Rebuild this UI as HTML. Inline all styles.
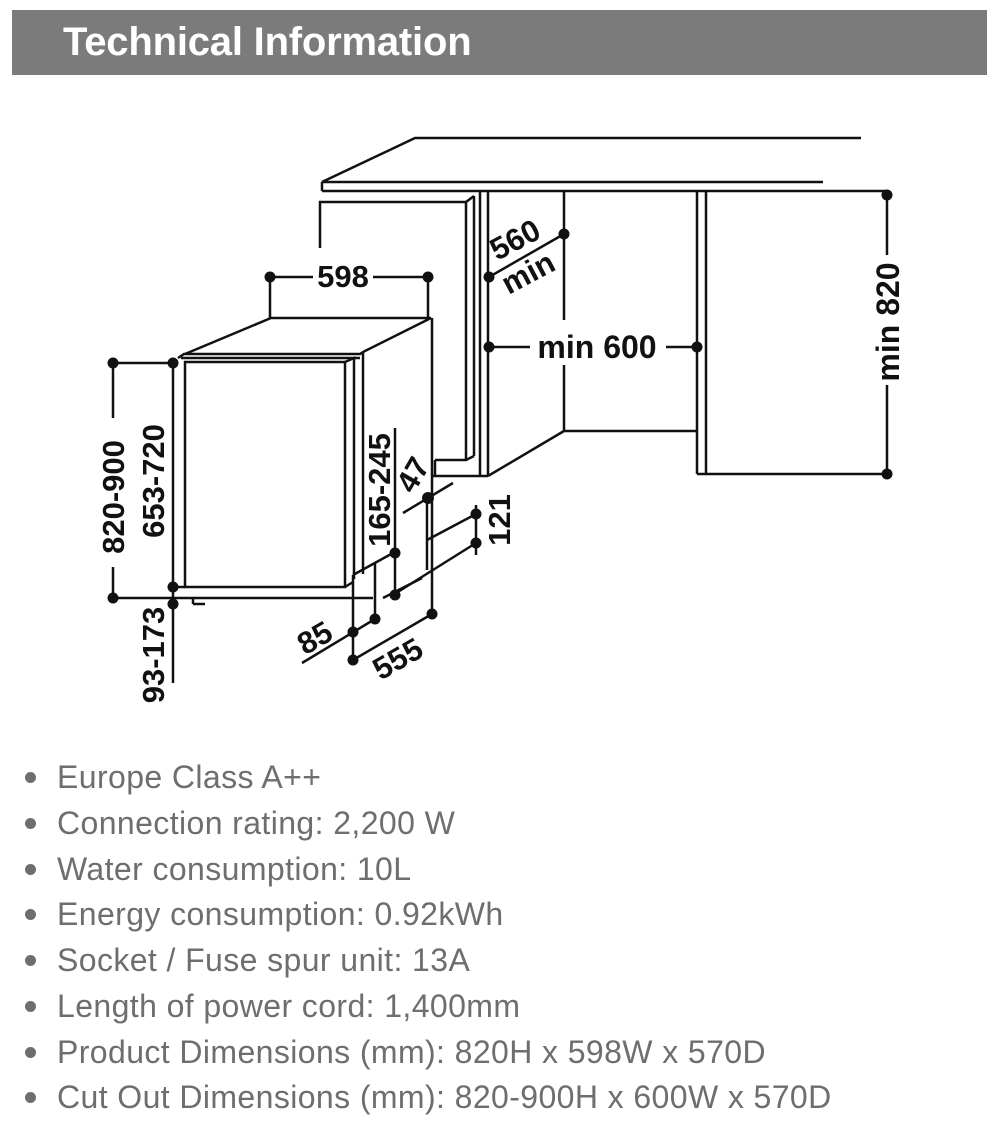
<!DOCTYPE html>
<html><head><meta charset="utf-8"><style>
html,body{margin:0;padding:0;background:#fff;width:1000px;height:1140px;overflow:hidden}
.hdr{position:absolute;left:12px;top:10px;width:975px;height:65px;background:#7b7b7b}
.hdr span{position:absolute;left:51px;top:10px;color:#fff;font:bold 40px "Liberation Sans",sans-serif;letter-spacing:-0.2px}
svg{position:absolute;left:0;top:0}
.li{position:absolute;left:57px;font:32px "Liberation Sans",sans-serif;color:#6e6e6e;white-space:nowrap;letter-spacing:0.4px}
.dot{position:absolute;left:25px;width:11px;height:11px;border-radius:50%;background:#6e6e6e}
</style></head><body>
<div class="hdr"><span>Technical Information</span></div>
<svg width="1000" height="740" viewBox="0 0 1000 740" xmlns="http://www.w3.org/2000/svg">
<g fill="none" stroke="#111" stroke-width="2.5" stroke-linejoin="miter">
<polyline points="861,138 415,138 322,182 823,182"/>
<line x1="322" y1="182" x2="322" y2="191"/>
<line x1="322" y1="191" x2="887" y2="191"/>
<polyline points="320,248 320,202 466,202 474,196"/>
<line x1="466" y1="202" x2="466" y2="460"/>
<line x1="474" y1="196" x2="474" y2="456"/>
<polyline points="435,460 466,460 474,456"/>
<line x1="435" y1="460" x2="435" y2="476"/>
<line x1="480" y1="191" x2="480" y2="476"/>
<line x1="488" y1="191" x2="488" y2="476"/>
<line x1="433" y1="476" x2="488" y2="476"/>
<line x1="488" y1="476" x2="564" y2="431"/>
<line x1="564" y1="191" x2="564" y2="320"/>
<line x1="564" y1="365" x2="564" y2="431"/>
<line x1="564" y1="431" x2="697" y2="431"/>
<line x1="697" y1="191" x2="697" y2="474"/>
<line x1="706" y1="191" x2="706" y2="474"/>
<line x1="697" y1="474" x2="887" y2="474"/>
<line x1="887" y1="195" x2="887" y2="255"/>
<line x1="887" y1="385" x2="887" y2="474"/>
<line x1="489" y1="347" x2="530" y2="347"/>
<line x1="666" y1="347" x2="697" y2="347"/>
<line x1="489" y1="277" x2="564" y2="234"/>
<line x1="270" y1="277" x2="313" y2="277"/>
<line x1="373" y1="277" x2="428" y2="277"/>
<line x1="270" y1="277" x2="270" y2="318"/>
<line x1="428" y1="277" x2="428" y2="318"/>
<polyline points="185,354 271,318 431,318 363,352"/>
<polyline points="178,358 184,354 360,354 363,352"/>
<line x1="181" y1="358" x2="360" y2="358"/>
<line x1="432" y1="318" x2="432" y2="614"/>
<rect x="185" y="362" width="160" height="225"/>
<line x1="173" y1="363" x2="173" y2="598"/>
<polyline points="345,362 354,358 354,579"/>
<line x1="363" y1="352" x2="363" y2="574"/>
<line x1="345" y1="587" x2="353" y2="582"/>
<polyline points="353,575 393,553"/>
<line x1="353" y1="575" x2="353" y2="660"/>
<line x1="375" y1="563" x2="375" y2="619"/>
<line x1="173" y1="598" x2="373" y2="598"/>
<line x1="173" y1="587" x2="185" y2="587"/>
<line x1="193" y1="598" x2="193" y2="604"/>
<line x1="193" y1="604" x2="205" y2="604"/>
<line x1="113" y1="363" x2="173" y2="363"/>
<line x1="113" y1="598" x2="173" y2="598"/>
<line x1="113" y1="363" x2="113" y2="418"/>
<line x1="113" y1="567" x2="113" y2="598"/>
<line x1="173" y1="603" x2="173" y2="683"/>
<line x1="395" y1="428" x2="395" y2="595"/>
<line x1="403" y1="513" x2="453" y2="483"/>
<line x1="427" y1="498" x2="427" y2="570"/>
<line x1="427" y1="540" x2="476" y2="514"/>
<line x1="393" y1="595" x2="476" y2="543"/>
<line x1="476" y1="505" x2="476" y2="555"/>
<line x1="383" y1="598" x2="422" y2="578"/>
<line x1="302" y1="663" x2="375" y2="619"/>
<line x1="353" y1="660" x2="432" y2="614"/>
</g>
<g fill="#111">
<circle cx="887" cy="195" r="5.5"/><circle cx="887" cy="474" r="5.5"/>
<circle cx="489" cy="347" r="5.5"/><circle cx="697" cy="347" r="5.5"/>
<circle cx="489" cy="277" r="5.5"/><circle cx="564" cy="234" r="5.5"/>
<circle cx="270" cy="277" r="5.5"/><circle cx="428" cy="277" r="5.5"/>
<circle cx="113" cy="363" r="5.5"/><circle cx="113" cy="598" r="5.5"/>
<circle cx="173" cy="363" r="5.5"/><circle cx="173" cy="587" r="5.5"/>
<circle cx="173" cy="604" r="5.5"/>
<circle cx="395" cy="553" r="5.5"/><circle cx="395" cy="595" r="5.5"/>
<circle cx="428" cy="498" r="6"/>
<circle cx="476" cy="514" r="5.5"/><circle cx="476" cy="543" r="5.5"/>
<circle cx="375" cy="619" r="5.5"/><circle cx="353" cy="632" r="5.5"/>
<circle cx="353" cy="660" r="5.5"/><circle cx="432" cy="614" r="5.5"/>
</g>
<g font-family="Liberation Sans, sans-serif" font-weight="bold" font-size="31" fill="#111" text-anchor="middle">
<text x="343" y="287">598</text>
<text x="597" y="358" font-size="32">min 600</text>
<text transform="translate(899,322) rotate(-90)" font-size="32">min 820</text>
<text transform="translate(520,249) rotate(-28)">560</text>
<text transform="translate(533,282) rotate(-28)">min</text>
<text transform="translate(124,497) rotate(-90)">820-900</text>
<text transform="translate(164,481) rotate(-90)">653-720</text>
<text transform="translate(164,655) rotate(-90)">93-173</text>
<text transform="translate(390,490) rotate(-90)">165-245</text>
<text transform="translate(422,480) rotate(-60)">47</text>
<text transform="translate(510,520) rotate(-90)">121</text>
<text transform="translate(320,647) rotate(-30)">85</text>
<text transform="translate(403,668) rotate(-30)">555</text>
</g>
</svg>
<div class="dot" style="top:772px"></div><div class="li" style="top:759px">Europe Class A++</div>
<div class="dot" style="top:818px"></div><div class="li" style="top:805px">Connection rating: 2,200 W</div>
<div class="dot" style="top:864px"></div><div class="li" style="top:851px">Water consumption: 10L</div>
<div class="dot" style="top:909px"></div><div class="li" style="top:896px">Energy consumption: 0.92kWh</div>
<div class="dot" style="top:955px"></div><div class="li" style="top:942px">Socket / Fuse spur unit: 13A</div>
<div class="dot" style="top:1001px"></div><div class="li" style="top:988px">Length of power cord: 1,400mm</div>
<div class="dot" style="top:1047px"></div><div class="li" style="top:1034px">Product Dimensions (mm): 820H x 598W x 570D</div>
<div class="dot" style="top:1092px"></div><div class="li" style="top:1079px">Cut Out Dimensions (mm): 820-900H x 600W x 570D</div>
</body></html>
